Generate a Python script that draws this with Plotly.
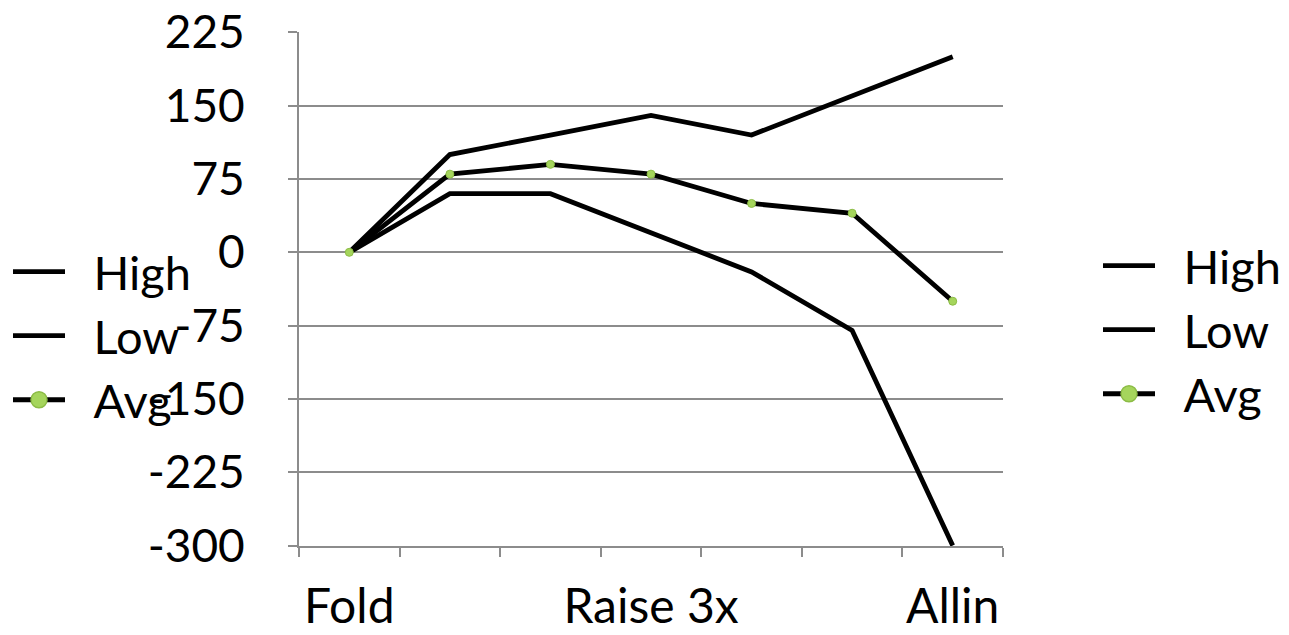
import plotly.graph_objects as go

categories = ["Fold", "", "", "Raise 3x", "", "", "Allin"]
high = [0, 100, 120, 140, 120, 160, 200]
low = [0, 60, 60, 20, -20, -80, -300]
avg = [0, 80, 90, 80, 50, 40, -50]
y_ticks = [225, 150, 75, 0, -75, -150, -225, -300]
series_names = ["High", "Low", "Avg"]

x_idx = list(range(len(categories)))
GRID = "#8c8c8c"
FONT = "Lato"
GREEN = "#a5d55c"
GREEN_EDGE = "#8cbc46"
W, H = 1281, 627

fig = go.Figure()
line = dict(color="black", width=4.8)
fig.add_trace(go.Scatter(x=x_idx, y=high, mode="lines", line=line, showlegend=False))
fig.add_trace(go.Scatter(x=x_idx, y=low, mode="lines", line=line, showlegend=False))
fig.add_trace(go.Scatter(x=x_idx, y=avg, mode="lines+markers", line=line,
                         marker=dict(size=8, color=GREEN, line=dict(color=GREEN_EDGE, width=1)),
                         showlegend=False))

pad = "\u2002"
for lg in ["legend", "legend2"]:
    fig.add_trace(go.Scatter(x=[None], y=[None], mode="lines", name=pad + series_names[0],
                             line=line, legend=lg))
    fig.add_trace(go.Scatter(x=[None], y=[None], mode="lines", name=pad + series_names[1],
                             line=line, legend=lg))
    fig.add_trace(go.Scatter(x=[None], y=[None], mode="lines+markers", name=pad + series_names[2],
                             line=line,
                             marker=dict(size=24, color=GREEN, line=dict(color=GREEN_EDGE, width=1.5)),
                             legend=lg))

legend_font = dict(family=FONT, size=47, color="black")
fig.update_layout(
    width=W, height=H,
    margin=dict(l=291, r=286, t=24, b=89, autoexpand=False),
    plot_bgcolor="white", paper_bgcolor="white",
    font=dict(family=FONT, size=48, color="black"),
    legend=dict(x=0, y=(H - 328) / H, xref="container", yref="container",
                xanchor="left", yanchor="middle", font=legend_font,
                bgcolor="rgba(0,0,0,0)", itemwidth=52),
    legend2=dict(x=1090 / W, y=(H - 322) / H, xref="container", yref="container",
                 xanchor="left", yanchor="middle", font=legend_font,
                 bgcolor="rgba(0,0,0,0)", itemwidth=52),
    xaxis=dict(
        automargin=False,
        range=[-0.5, len(categories) - 0.5],
        tickmode="array", tickvals=[i for i, c in enumerate(categories) if c],
        ticktext=[c for c in categories if c],
        ticks="", showgrid=False, zeroline=False,
        showline=True, linecolor=GRID, linewidth=2,
        ticklabelstandoff=17,
        ticklabeloverflow="allow",
        tickfont=dict(family=FONT, size=48),
        minor=dict(tickmode="linear", tick0=-0.5, dtick=1, ticks="outside",
                   ticklen=9, tickwidth=2, tickcolor=GRID, showgrid=False),
    ),
    yaxis=dict(
        automargin=False,
        range=[-300.4, 225.4], tickmode="array", tickvals=y_ticks,
        ticktext=[str(v) for v in y_ticks],
        showgrid=True, gridcolor=GRID, gridwidth=2, zeroline=False,
        showline=True, linecolor=GRID, linewidth=2,
        ticks="outside", ticklen=9, tickwidth=2, tickcolor=GRID,
        ticklabelstandoff=34,
        ticklabeloverflow="allow",
        tickfont=dict(family=FONT, size=46),
    ),
)

fig.write_html("out.html")
